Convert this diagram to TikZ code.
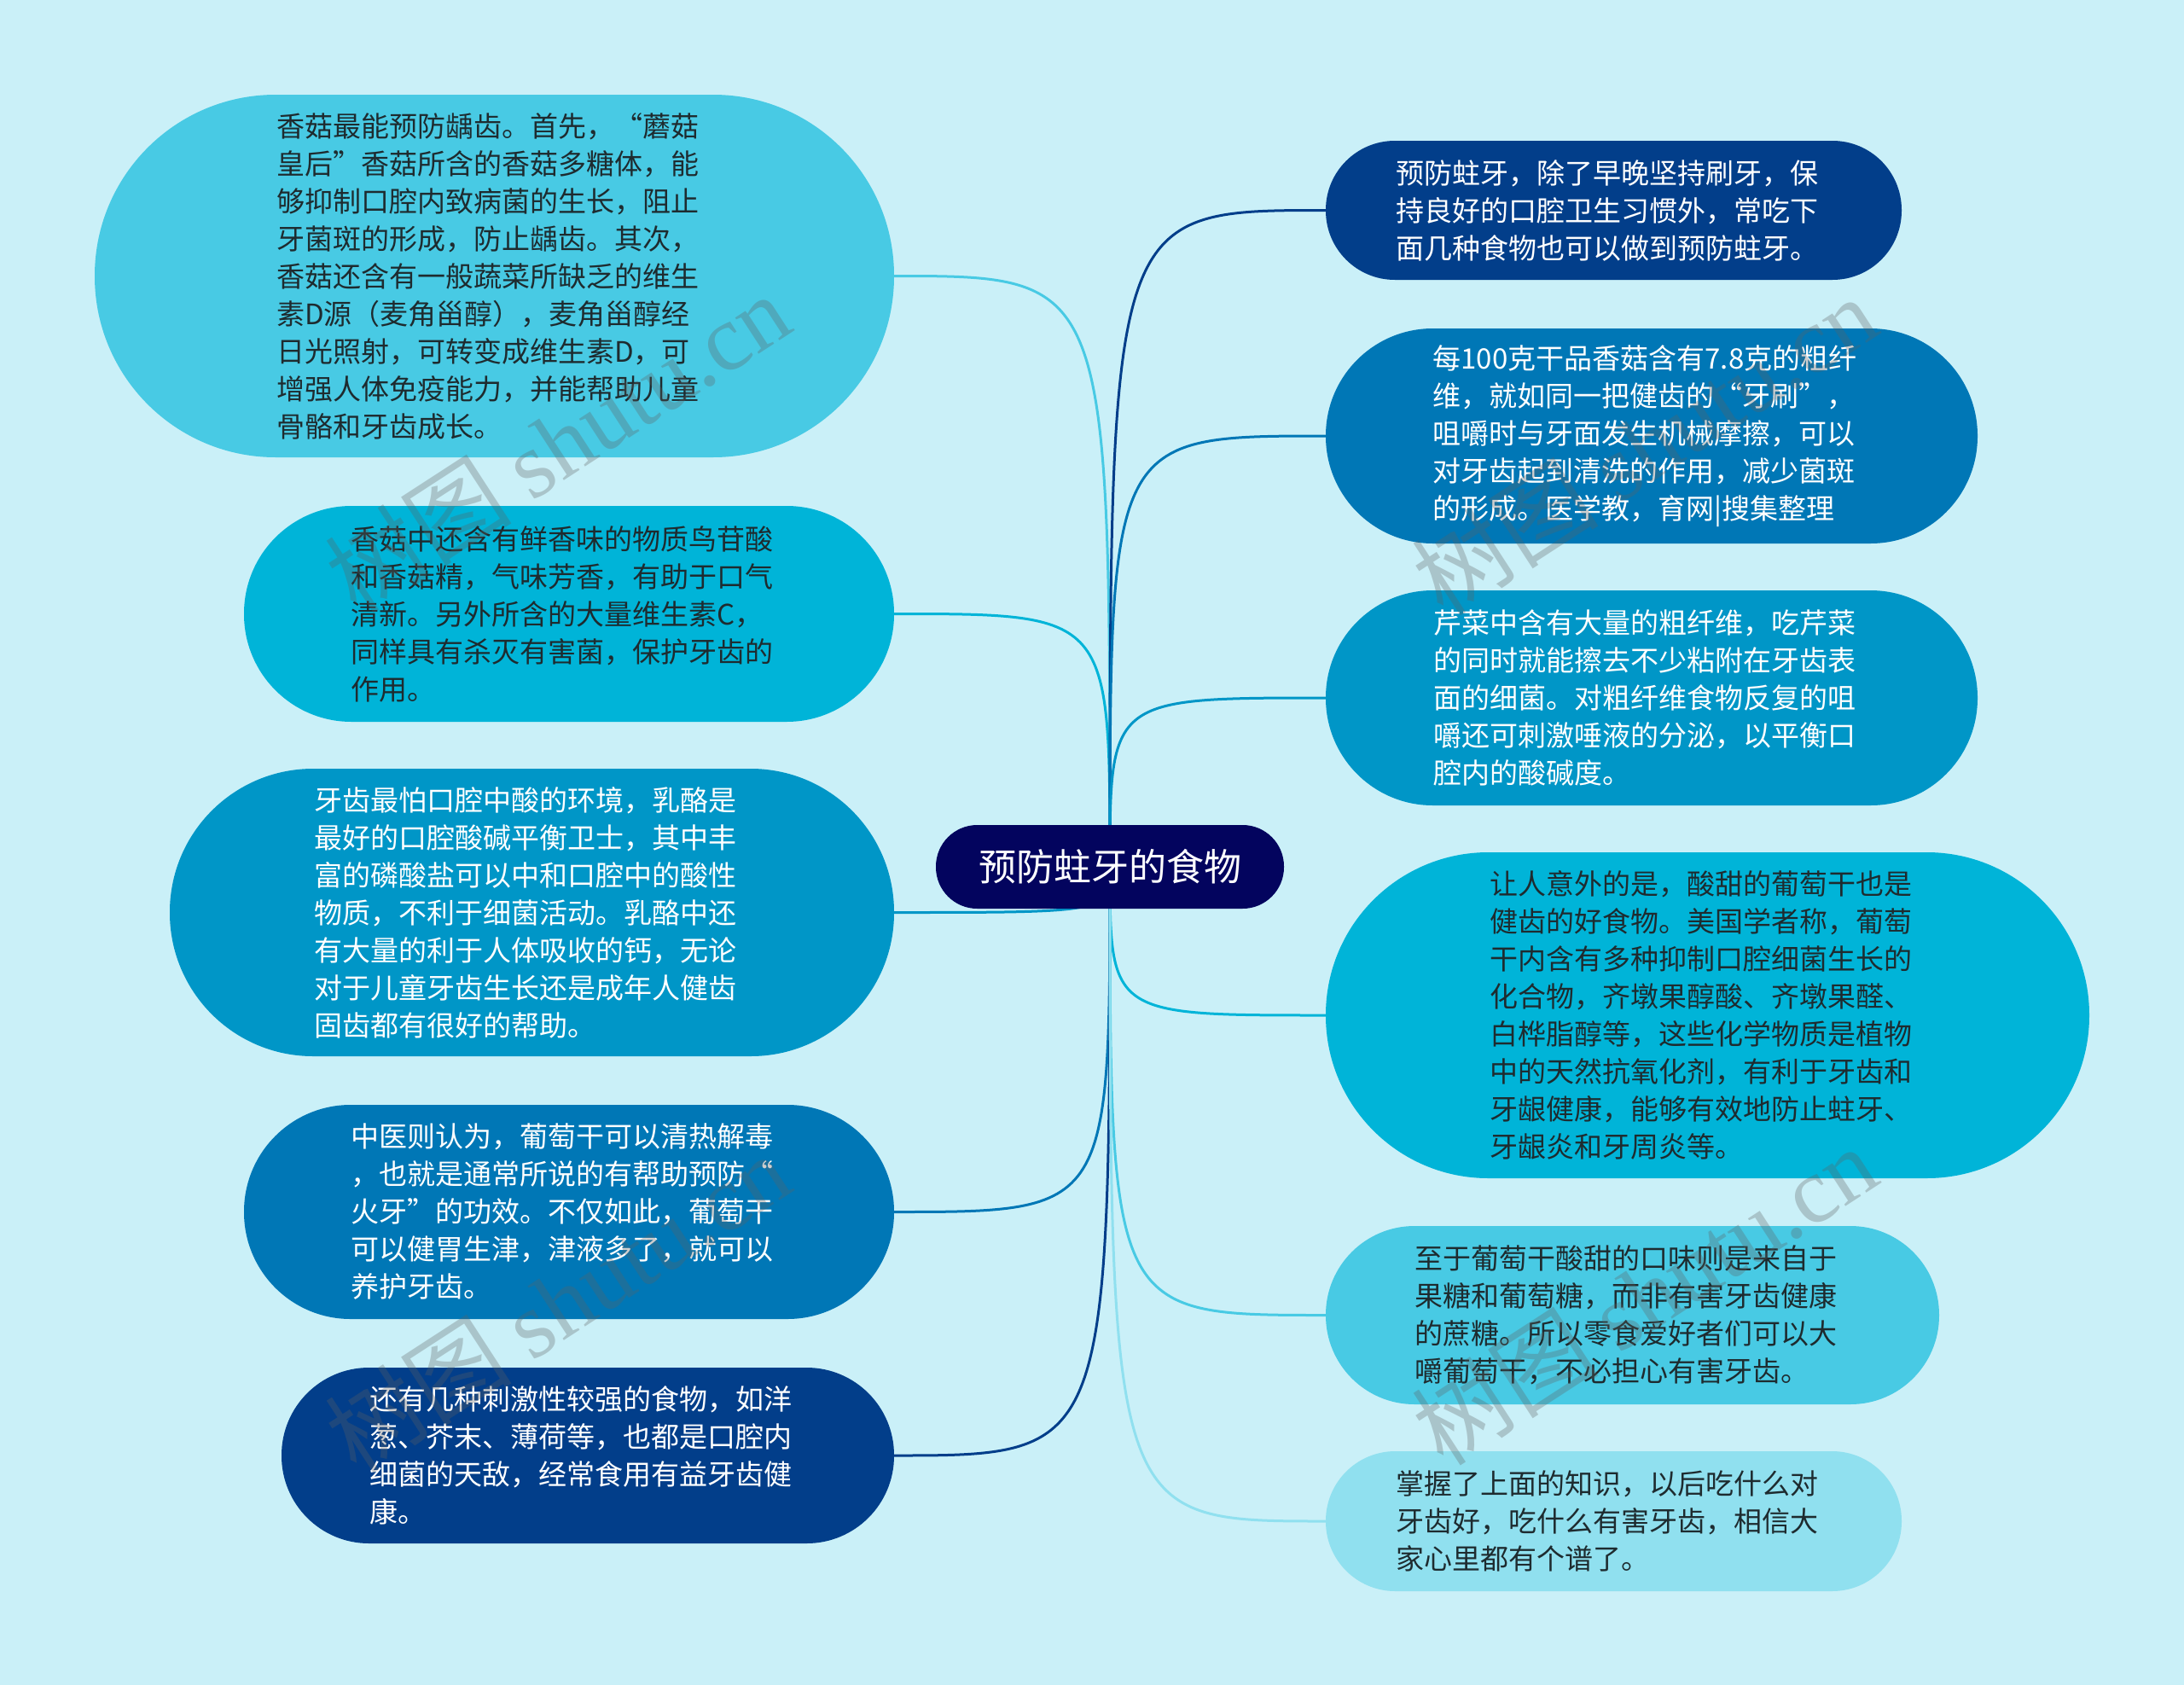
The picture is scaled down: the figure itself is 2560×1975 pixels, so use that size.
\documentclass[tikz,border=0pt]{standalone}
\usepackage{fontspec}
\newfontfamily\cjk{Noto Sans CJK SC}
\newfontfamily\wmserif{Liberation Serif}
\usetikzlibrary{backgrounds}
\definecolor{bg}{HTML}{CAF0F8}
\definecolor{c1}{HTML}{03045E}
\definecolor{c2}{HTML}{023E8A}
\definecolor{c3}{HTML}{0077B6}
\definecolor{c4}{HTML}{0096C7}
\definecolor{c5}{HTML}{00B4D8}
\definecolor{c6}{HTML}{48CAE4}
\definecolor{c7}{HTML}{90E0EF}
\definecolor{darktext}{HTML}{1E2B2F}
\newcommand{\padr}{\hspace*{16pt}}
\tikzset{
  bubble/.style={inner sep=0pt, align=left, font=\cjk\fontsize{33}{44}\selectfont},
  roottxt/.style={inner sep=0pt, align=center, font=\cjk\fontsize{44}{52}\selectfont, text=white, fill=c1},
  conn/.style={line width=3pt},
  wm/.style={rotate=33, text=gray!75!black, opacity=0.3, font=\cjk\fontsize{110}{120}\selectfont, inner sep=0pt}
}
\begin{document}
\begin{tikzpicture}[x=1pt,y=-1pt]
\useasboundingbox (0,0) rectangle (2560,1975);

\node[roottxt, minimum width=408pt, minimum height=98pt, rounded corners=48.5pt] (root) at (1301,1016) {预防蛀牙的食物};

\node[bubble, fill=c6, text=darktext, minimum width=937pt, minimum height=425pt, rounded corners=212pt] (L1) at (579.5,323.5) {香菇最能预防龋齿。首先，“蘑菇\padr\\皇后”香菇所含的香菇多糖体，能\\够抑制口腔内致病菌的生长，阻止\\牙菌斑的形成，防止龋齿。其次，\\香菇还含有一般蔬菜所缺乏的维生\\素D源（麦角甾醇），麦角甾醇经\\日光照射，可转变成维生素D，可\\增强人体免疫能力，并能帮助儿童\\骨骼和牙齿成长。};

\node[bubble, fill=c5, text=darktext, minimum width=762pt, minimum height=253pt, rounded corners=126pt] (L2) at (667,719.5) {香菇中还含有鲜香味的物质鸟苷酸\padr\\和香菇精，气味芳香，有助于口气\\清新。另外所含的大量维生素C，\\同样具有杀灭有害菌，保护牙齿的\\作用。};

\node[bubble, fill=c4, text=white, minimum width=849pt, minimum height=337pt, rounded corners=168pt] (L3) at (623.5,1069.5) {牙齿最怕口腔中酸的环境，乳酪是\padr\\最好的口腔酸碱平衡卫士，其中丰\\富的磷酸盐可以中和口腔中的酸性\\物质，不利于细菌活动。乳酪中还\\有大量的利于人体吸收的钙，无论\\对于儿童牙齿生长还是成年人健齿\\固齿都有很好的帮助。};

\node[bubble, fill=c3, text=white, minimum width=762pt, minimum height=251pt, rounded corners=125pt] (L4) at (667,1420.5) {中医则认为，葡萄干可以清热解毒\padr\\，也就是通常所说的有帮助预防“\\火牙”的功效。不仅如此，葡萄干\\可以健胃生津，津液多了，就可以\\养护牙齿。};

\node[bubble, fill=c2, text=white, minimum width=718pt, minimum height=206pt, rounded corners=102.5pt] (L5) at (689,1706) {还有几种刺激性较强的食物，如洋\padr\\葱、芥末、薄荷等，也都是口腔内\\细菌的天敌，经常食用有益牙齿健\\康。};

\node[bubble, fill=c2, text=white, minimum width=675pt, minimum height=163pt, rounded corners=81pt] (R1) at (1891.5,246.5) {预防蛀牙，除了早晚坚持刷牙，保\padr\\持良好的口腔卫生习惯外，常吃下\\面几种食物也可以做到预防蛀牙。};

\node[bubble, fill=c3, text=white, minimum width=764pt, minimum height=252pt, rounded corners=125.5pt] (R2) at (1936,511) {每100克干品香菇含有7.8克的粗纤\padr\\维，就如同一把健齿的“牙刷”，\\咀嚼时与牙面发生机械摩擦，可以\\对牙齿起到清洗的作用，减少菌斑\\的形成。医学教，育网|搜集整理};

\node[bubble, fill=c4, text=white, minimum width=764pt, minimum height=252pt, rounded corners=125.5pt] (R3) at (1936,818) {芹菜中含有大量的粗纤维，吃芹菜\padr\\的同时就能擦去不少粘附在牙齿表\\面的细菌。对粗纤维食物反复的咀\\嚼还可刺激唾液的分泌，以平衡口\\腔内的酸碱度。};

\node[bubble, fill=c5, text=darktext, minimum width=895pt, minimum height=382pt, rounded corners=190.5pt] (R4) at (2001.5,1190) {让人意外的是，酸甜的葡萄干也是\padr\\健齿的好食物。美国学者称，葡萄\\干内含有多种抑制口腔细菌生长的\\化合物，齐墩果醇酸、齐墩果醛、\\白桦脂醇等，这些化学物质是植物\\中的天然抗氧化剂，有利于牙齿和\\牙龈健康，能够有效地防止蛀牙、\\牙龈炎和牙周炎等。};

\node[bubble, fill=c6, text=darktext, minimum width=719pt, minimum height=209pt, rounded corners=104pt] (R5) at (1913.5,1541.5) {至于葡萄干酸甜的口味则是来自于\padr\\果糖和葡萄糖，而非有害牙齿健康\\的蔗糖。所以零食爱好者们可以大\\嚼葡萄干，不必担心有害牙齿。};

\node[bubble, fill=c7, text=darktext, minimum width=675pt, minimum height=164pt, rounded corners=81.5pt] (R6) at (1891.5,1783) {掌握了上面的知识，以后吃什么对\padr\\牙齿好，吃什么有害牙齿，相信大\\家心里都有个谱了。};

\begin{scope}[on background layer]
  \fill[bg] (0,0) rectangle (2560,1975);
  \foreach \n/\c in {L1/c6, L2/c5, L3/c4, L4/c3, L5/c2}
    \draw[conn, draw=\c] (root.center) .. controls (root.center |- \n.east) .. (\n.east);
  \foreach \n/\c in {R1/c2, R2/c3, R3/c4, R4/c5, R5/c6, R6/c7}
    \draw[conn, draw=\c] (root.center) .. controls (root.center |- \n.west) .. (\n.west);
\end{scope}

\node[wm] (wm1) at (653,519) {树图 {\wmserif shutu.cn}};
\node[wm] (wm2) at (653,1527) {树图 {\wmserif shutu.cn}};
\node[wm] (wm3) at (1927,522) {树图 {\wmserif shutu.cn}};
\node[wm] (wm4) at (1927,1518) {树图 {\wmserif shutu.cn}};
\end{tikzpicture}
\end{document}
